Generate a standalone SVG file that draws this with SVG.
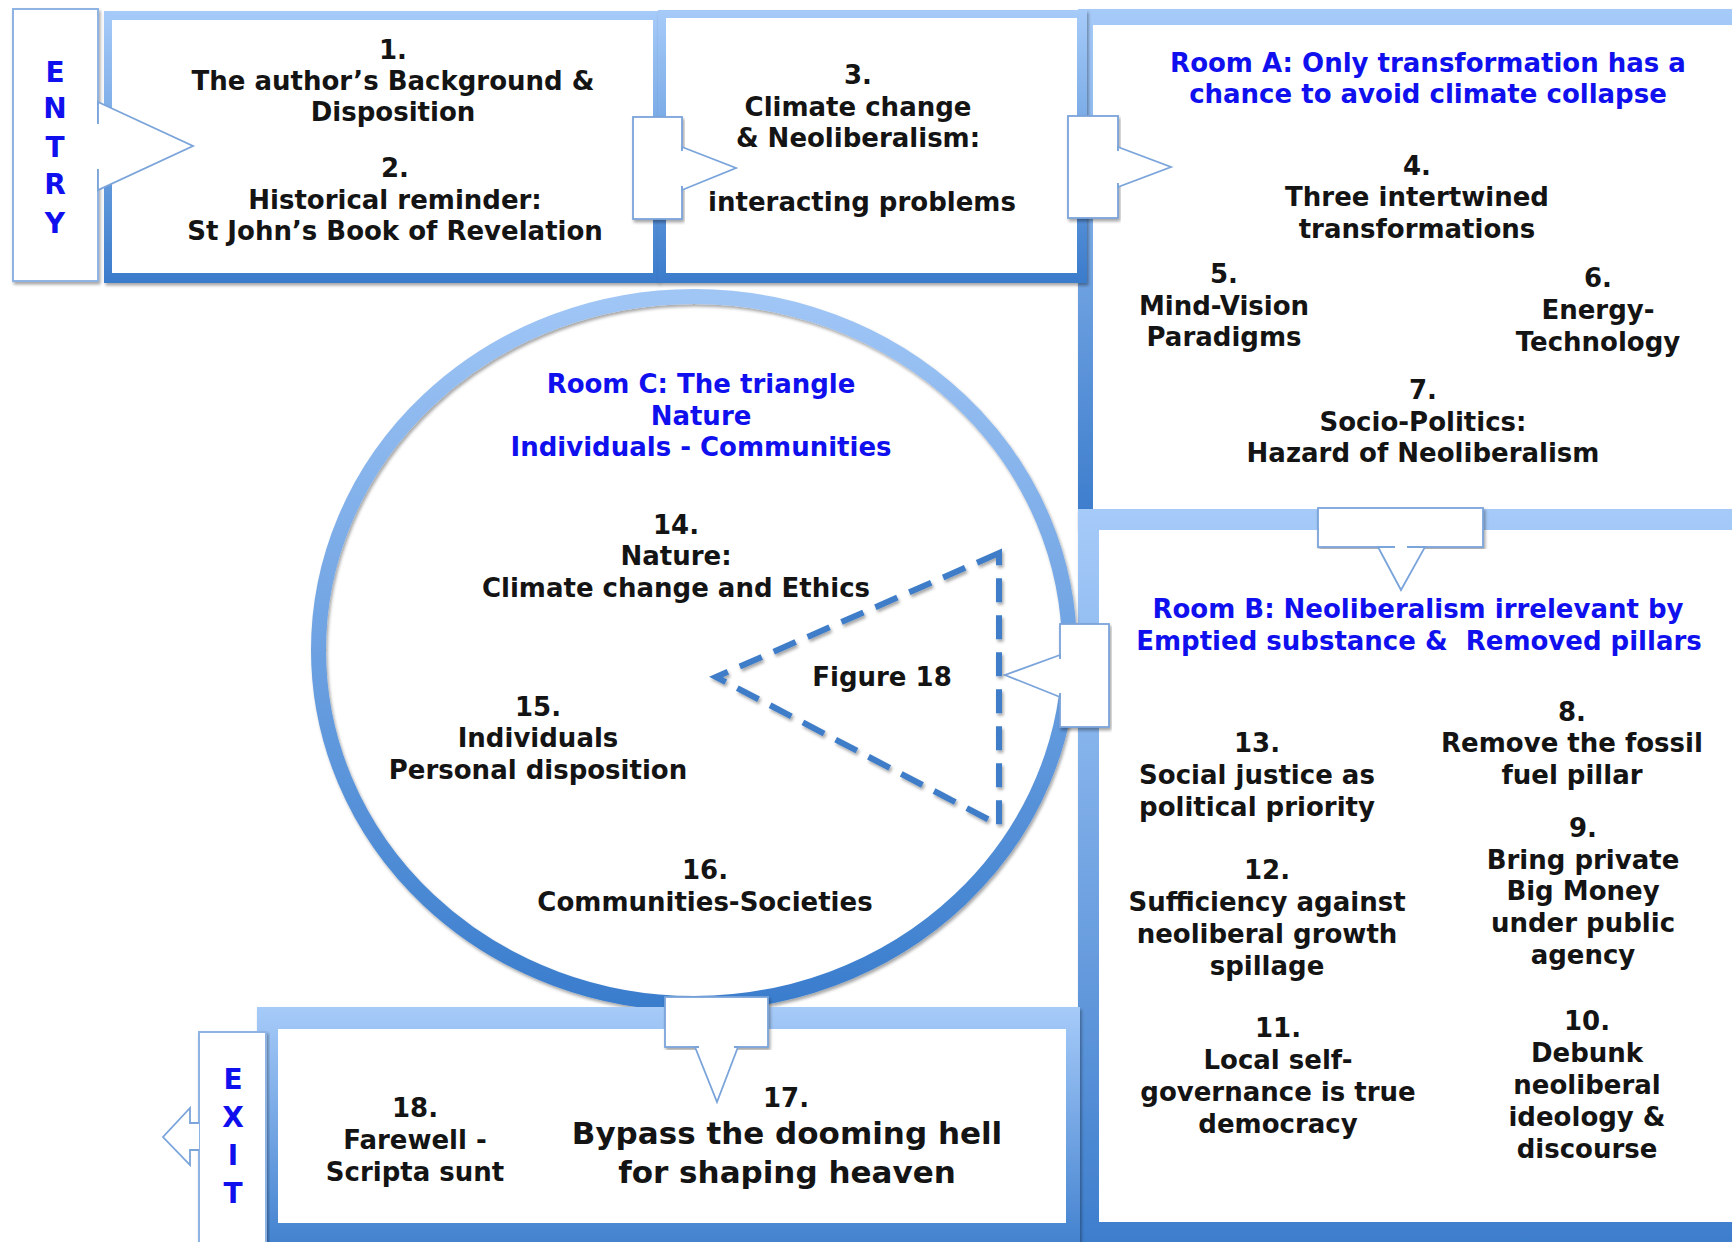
<svg xmlns="http://www.w3.org/2000/svg" width="1732" height="1242" viewBox="0 0 1732 1242">
<defs>
<linearGradient id="fr" x1="0" y1="0" x2="0" y2="1">
<stop offset="0" stop-color="#a6cbf9"/>
<stop offset="1" stop-color="#3a7bcb"/>
</linearGradient>
<linearGradient id="ring" x1="0" y1="0" x2="0" y2="1">
<stop offset="0" stop-color="#a0c6f6"/>
<stop offset="1" stop-color="#3a7dcd"/>
</linearGradient>
<filter id="sh" x="-5%" y="-5%" width="110%" height="110%">
<feDropShadow dx="1.5" dy="2.5" stdDeviation="1.8" flood-color="#000" flood-opacity="0.35"/>
</filter>
</defs>
<style>
.frame{fill:url(#fr);filter:url(#sh)}
.inner{fill:#fff}
.tab{fill:#fff;stroke:#7aa4da;stroke-width:1.8}
.cut{fill:#fff}
text{font-family:"DejaVu Sans","Liberation Sans",sans-serif;font-weight:bold;text-anchor:middle}
.t{font-size:26px;fill:#141414}
.b{font-size:26px;fill:#1010ee}
.big{font-size:31px;fill:#141414}
.lab{font-size:28px;fill:#1010ee}
</style>
<rect width="1732" height="1242" fill="#fff"/>

<g id="room-a">
<rect class="frame" x="1078" y="9" width="700" height="520"/>
<rect class="inner" x="1093" y="25" width="700" height="485"/>
</g>
<g id="room-b">
<rect class="frame" x="1078" y="509" width="700" height="760"/>
<rect class="inner" x="1099" y="530" width="700" height="692"/>
</g>
<g id="box-1">
<rect class="frame" x="104" y="11" width="555" height="272"/>
<rect class="inner" x="112" y="20" width="541" height="253"/>
</g>
<g id="box-3">
<rect class="frame" x="658" y="10" width="429" height="273"/>
<rect class="inner" x="666" y="18" width="411" height="255"/>
</g>
<g id="room-c">
<ellipse cx="694" cy="650" rx="375.5" ry="353.5" fill="none" stroke="url(#ring)" stroke-width="15" filter="url(#sh)"/>
</g>
<g id="exit-room">
<rect class="frame" x="257" y="1007" width="823" height="260"/>
<rect class="inner" x="278" y="1029" width="788" height="194"/>
</g>
<g id="entry">
<rect x="13" y="9" width="85" height="272" fill="#fff" stroke="#8fb4e3" stroke-width="2" filter="url(#sh)"/>
</g>
<g id="exit">
<rect x="199" y="1032" width="67" height="230" fill="#fff" stroke="#8fb4e3" stroke-width="2" filter="url(#sh)"/>
</g>

<g id="connectors">
<polygon class="tab" points="98,102 193,146 98,190"/>
<rect class="cut" x="96" y="124" width="6" height="45"/>
<rect class="tab" x="633" y="117" width="49" height="102" filter="url(#sh)"/>
<polygon class="tab" points="682,147 736,168 682,190"/>
<rect class="cut" x="680" y="151" width="5" height="35"/>
<rect class="tab" x="1068" y="116" width="50" height="102" filter="url(#sh)"/>
<polygon class="tab" points="1118,147 1171,167 1118,187"/>
<rect class="cut" x="1116" y="151" width="5" height="32"/>
<rect class="tab" x="1318" y="508" width="165" height="39" filter="url(#sh)"/>
<polygon class="tab" points="1378,547 1401,590 1425,547"/>
<rect class="cut" x="1395" y="545" width="12" height="5"/>
<rect class="tab" x="1060" y="624" width="49" height="103" filter="url(#sh)"/>
<polygon class="tab" points="1060,655 1005,675 1060,697"/>
<rect class="cut" x="1058" y="659" width="5" height="34"/>
<rect class="tab" x="665" y="997" width="103" height="50" filter="url(#sh)"/>
<polygon class="tab" points="695,1047 717,1102 738,1047"/>
<rect class="cut" x="699" y="1045" width="35" height="5"/>
<path class="tab" d="M199,1123 H190 V1108 L163,1137 L190,1165 V1150 H199"/>
<polygon points="999,553 716,677 999,825" fill="none" stroke="#3f7dc8" stroke-width="6" stroke-dasharray="24 13" filter="url(#sh)"/>
</g>

<g id="entry-label">
<text class="lab" x="55" y="82">E</text>
<text class="lab" x="55" y="118">N</text>
<text class="lab" x="55" y="157">T</text>
<text class="lab" x="55" y="194">R</text>
<text class="lab" x="55" y="233">Y</text>
</g>
<g id="exit-label">
<text class="lab" x="233" y="1089">E</text>
<text class="lab" x="233" y="1127">X</text>
<text class="lab" x="233" y="1165">I</text>
<text class="lab" x="233" y="1203">T</text>
</g>

<g id="node-1-2">
<text class="t" x="393" y="59">1.</text>
<text class="t" x="393" y="90">The author’s Background &amp;</text>
<text class="t" x="393" y="121">Disposition</text>
<text class="t" x="395" y="177">2.</text>
<text class="t" x="395" y="209">Historical reminder:</text>
<text class="t" x="395" y="240">St John’s Book of Revelation</text>
</g>
<g id="node-3">
<text class="t" x="858" y="84">3.</text>
<text class="t" x="858" y="116">Climate change</text>
<text class="t" x="858" y="147">&amp; Neoliberalism:</text>
<text class="t" x="862" y="211">interacting problems</text>
</g>
<g id="room-a-text">
<text class="b" x="1428" y="72">Room A: Only transformation has a</text>
<text class="b" x="1428" y="103">chance to avoid climate collapse</text>
</g>
<g id="node-4">
<text class="t" x="1417" y="175">4.</text>
<text class="t" x="1417" y="206">Three intertwined</text>
<text class="t" x="1417" y="238">transformations</text>
</g>
<g id="node-5">
<text class="t" x="1224" y="283">5.</text>
<text class="t" x="1224" y="315">Mind-Vision</text>
<text class="t" x="1224" y="346">Paradigms</text>
</g>
<g id="node-6">
<text class="t" x="1598" y="287">6.</text>
<text class="t" x="1598" y="319">Energy-</text>
<text class="t" x="1598" y="351">Technology</text>
</g>
<g id="node-7">
<text class="t" x="1423" y="399">7.</text>
<text class="t" x="1423" y="431">Socio-Politics:</text>
<text class="t" x="1423" y="462">Hazard of Neoliberalism</text>
</g>
<g id="room-b-text">
<text class="b" x="1418" y="618">Room B: Neoliberalism irrelevant by</text>
<text class="b" x="1419" y="650" xml:space="preserve">Emptied substance &amp;  Removed pillars</text>
</g>
<g id="node-8">
<text class="t" x="1572" y="721">8.</text>
<text class="t" x="1572" y="752">Remove the fossil</text>
<text class="t" x="1572" y="784">fuel pillar</text>
</g>
<g id="node-9">
<text class="t" x="1583" y="837">9.</text>
<text class="t" x="1583" y="869">Bring private</text>
<text class="t" x="1583" y="900">Big Money</text>
<text class="t" x="1583" y="932">under public</text>
<text class="t" x="1583" y="964">agency</text>
</g>
<g id="node-10">
<text class="t" x="1587" y="1030">10.</text>
<text class="t" x="1587" y="1062">Debunk</text>
<text class="t" x="1587" y="1094">neoliberal</text>
<text class="t" x="1587" y="1126">ideology &amp;</text>
<text class="t" x="1587" y="1158">discourse</text>
</g>
<g id="node-11">
<text class="t" x="1278" y="1037">11.</text>
<text class="t" x="1278" y="1069">Local self-</text>
<text class="t" x="1278" y="1101">governance is true</text>
<text class="t" x="1278" y="1133">democracy</text>
</g>
<g id="node-12">
<text class="t" x="1267" y="879">12.</text>
<text class="t" x="1267" y="911">Sufficiency against</text>
<text class="t" x="1267" y="943">neoliberal growth</text>
<text class="t" x="1267" y="975">spillage</text>
</g>
<g id="node-13">
<text class="t" x="1257" y="752">13.</text>
<text class="t" x="1257" y="784">Social justice as</text>
<text class="t" x="1257" y="816">political priority</text>
</g>
<g id="room-c-text">
<text class="b" x="701" y="393">Room C: The triangle</text>
<text class="b" x="701" y="425">Nature</text>
<text class="b" x="701" y="456">Individuals - Communities</text>
</g>
<g id="node-14">
<text class="t" x="676" y="534">14.</text>
<text class="t" x="676" y="565">Nature:</text>
<text class="t" x="676" y="597">Climate change and Ethics</text>
</g>
<g id="node-15">
<text class="t" x="538" y="716">15.</text>
<text class="t" x="538" y="747">Individuals</text>
<text class="t" x="538" y="779">Personal disposition</text>
</g>
<g id="node-16">
<text class="t" x="705" y="879">16.</text>
<text class="t" x="705" y="911">Communities-Societies</text>
</g>
<g id="figure-18">
<text class="t" x="882" y="686">Figure 18</text>
</g>
<g id="node-17">
<text class="t" x="786" y="1107">17.</text>
<text class="big" x="787" y="1144">Bypass the dooming hell</text>
<text class="big" x="787" y="1183">for shaping heaven</text>
</g>
<g id="node-18">
<text class="t" x="415" y="1117">18.</text>
<text class="t" x="415" y="1149">Farewell -</text>
<text class="t" x="415" y="1181">Scripta sunt</text>
</g>
</svg>
